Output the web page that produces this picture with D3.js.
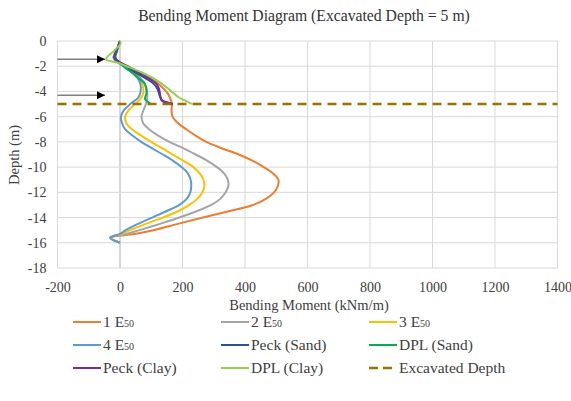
<!DOCTYPE html>
<html><head><meta charset="utf-8">
<script src="https://cdn.jsdelivr.net/npm/d3@7"></script>
<style>
body{margin:0;background:#fff}
svg{display:block}
text{font-family:"Liberation Serif","Times New Roman",serif;fill:#404040}
</style>
</head><body><svg id="c" width="571" height="401"></svg>
<script>
// ---- data ----
const xTicks = [-200,0,200,400,600,800,1000,1200,1400];
const yTicks = [0,-2,-4,-6,-8,-10,-12,-14,-16,-18];

const depthE50 = [0,0.7,1.35,2,2.5,3,3.5,4,4.5,5,5.5,6,6.5,7,7.5,8,8.5,9,9.5,10,10.5,11,11.5,12,12.5,13,13.5,14,14.5,15,15.3,15.6,16];
const e1 = [0,-10,-20,15,55,100,128,148,160,166,165,168,185,212,242,276,325,380,425,460,490,507,505,493,468,425,348,265,185,107,45,-30,0];
const e2 = [0,-10,-20,15,45,68,80,86,87,83,75,69,74,93,122,158,202,242,280,310,333,345,347,338,322,292,245,190,128,62,21,-30,0];
const e3 = [0,-10,-20,12,40,62,72,75,68,48,27,16,20,38,68,100,135,168,203,235,255,267,270,264,248,222,185,137,82,32,5,-30,0];
const e4 = [0,-10,-20,10,38,58,66,66,58,33,12,3,6,17,40,68,102,137,170,197,217,226,228,225,214,190,148,103,58,18,0,-32,0];

const depthPeckSand = [0,0.7,1.35,2,2.5,3,3.4,3.8,4.4,4.8,5];
const peckSand = [0,-10,-18,18,50,85,108,120,128,138,170];
const depthDplSand = [0,0.7,1.35,2,2.5,3,3.4,4.1,4.6,4.8,5];
const dplSand = [0,-8,-14,12,38,62,80,85,80,88,100];
const depthPeckClay = [0,0.7,1.35,2,2.5,3,3.4,3.8,4.2,4.7,4.85,5];
const peckClay = [0,-10,-16,25,62,95,117,125,128,133,150,168];
const depthDplClay = [0,0.2,0.8,1.45,1.7,2,2.5,3,3.5,4,4.5,4.75,5];
const dplClay = [0,2,-20,-45,-10,21,70,110,140,165,190,210,230];

const excavatedX = [-200,1400];
const excavatedDepth = [5,5];

const strutDepths = [1.45,4.3];
const strutTip = -48;

const seriesNames = ["1 E50","2 E50","3 E50","4 E50","Peck (Sand)","DPL (Sand)","Peck (Clay)","DPL (Clay)","Excavated Depth"];
const colors = ["#ED7D31","#A5A5A5","#FFC000","#5B9BD5","#2F4F8F","#00B050","#7030A0","#92D050","#997300"];

// ---- setup ----
const FONT = '"Liberation Serif","Times New Roman",serif';
const svg = d3.select("#c");
svg.append("rect").attr("width",571).attr("height",401).attr("fill","#fff");
const x = d3.scaleLinear().domain([-200,1400]).range([57.5,557.5]);
const y = d3.scaleLinear().domain([-18,0]).range([268,41]);

// gridlines
const g = svg.append("g");
g.selectAll(".vg").data(xTicks).join("line")
  .attr("x1",d=>x(d)).attr("x2",d=>x(d)).attr("y1",y(0)).attr("y2",y(-18))
  .attr("stroke",d=>d===0?"#b0b0b0":"#d9d9d9").attr("stroke-width",1);
g.selectAll(".hg").data(yTicks).join("line")
  .attr("x1",x(-200)).attr("x2",x(1400)).attr("y1",d=>y(d)).attr("y2",d=>y(d))
  .attr("stroke","#d9d9d9").attr("stroke-width",1);

// axes labels via d3 axis
const xAxis = svg.append("g").attr("transform",`translate(0,${y(-18)+10})`).attr("font-family",FONT)
  .call(d3.axisBottom(x).tickValues(xTicks).tickSize(0).tickPadding(4).tickFormat(d=>String(d)));
xAxis.attr("font-family",FONT);
xAxis.select(".domain").remove();
xAxis.selectAll("text").style("font-size","14px").style("font-family",FONT).style("fill","#404040");
const yAxis = svg.append("g").attr("transform",`translate(${x(-200)-11},0)`)
  .call(d3.axisLeft(y).tickValues(yTicks).tickSize(0).tickPadding(0).tickFormat(d=>String(d)));
yAxis.attr("font-family",FONT);
yAxis.select(".domain").remove();
yAxis.selectAll("text").style("font-size","14px").style("font-family",FONT).style("fill","#404040");

// titles
svg.append("text").attr("x",304).attr("y",21).attr("text-anchor","middle").style("font-size","15.7px").style("fill","#333").text("Bending Moment Diagram (Excavated Depth = 5 m)");
svg.append("text").attr("x",309).attr("y",310).attr("text-anchor","middle").style("font-size","14.5px").text("Bending Moment (kNm/m)");
svg.append("text").attr("transform","translate(19,155) rotate(-90)").attr("text-anchor","middle").style("font-size","14.5px").text("Depth (m)");

// curves
const line = d3.line().x(d=>x(d[0])).y(d=>y(-d[1])).curve(d3.curveCatmullRom.alpha(0.5));
const zip = (m,dp)=>m.map((v,i)=>[v,dp[i]]);
const series = [
  zip(e1,depthE50), zip(e2,depthE50), zip(e3,depthE50), zip(e4,depthE50),
  zip(peckSand,depthPeckSand), zip(dplSand,depthDplSand), zip(peckClay,depthPeckClay), zip(dplClay,depthDplClay)
];
const pg = svg.append("g").attr("fill","none");
series.forEach((s,i)=>{
  pg.append("path").attr("d",line(s)).attr("stroke",colors[i]).attr("stroke-width",2).attr("stroke-linejoin","round");
});
// excavated depth
pg.append("path").attr("d",d3.line().x(d=>x(d[0])).y(d=>y(-d[1]))(zip(excavatedX,excavatedDepth)))
  .attr("stroke",colors[8]).attr("stroke-width",2.5).attr("stroke-dasharray","9,6");

// strut arrows
svg.append("defs").append("marker").attr("id","ah").attr("viewBox","0 0 10 10").attr("refX",10).attr("refY",5)
  .attr("markerWidth",9).attr("markerHeight",8).attr("markerUnits","userSpaceOnUse").attr("orient","auto")
  .append("path").attr("d","M0,0L10,5L0,10Z").attr("fill","#000");
svg.selectAll(".arr").data(strutDepths).join("line")
  .attr("x1",x(-200)).attr("x2",x(strutTip)).attr("y1",d=>y(-d)).attr("y2",d=>y(-d))
  .attr("stroke","#808080").attr("stroke-width",1.5).attr("marker-end","url(#ah)");

// legend
const lg = svg.append("g");
const colX = [73,221,369], rowY = [322,345,368];
seriesNames.forEach((n,i)=>{
  const cx = colX[i%3], cy = rowY[Math.floor(i/3)];
  lg.append("line").attr("x1",cx).attr("x2",cx+28).attr("y1",cy).attr("y2",cy)
    .attr("stroke",colors[i]).attr("stroke-width",i===8?2.5:2).attr("stroke-dasharray",i===8?"9,5":null);
  const t = lg.append("text").attr("x",cx+30).attr("y",cy+5).style("font-size","15.5px").style("font-family",FONT);
  const m = n.match(/^(\d) E50$/);
  if(m){ t.append("tspan").text(m[1]+" E"); t.append("tspan").style("font-size","10px").text("50"); }
  else t.text(n);
});
</script></body></html>
